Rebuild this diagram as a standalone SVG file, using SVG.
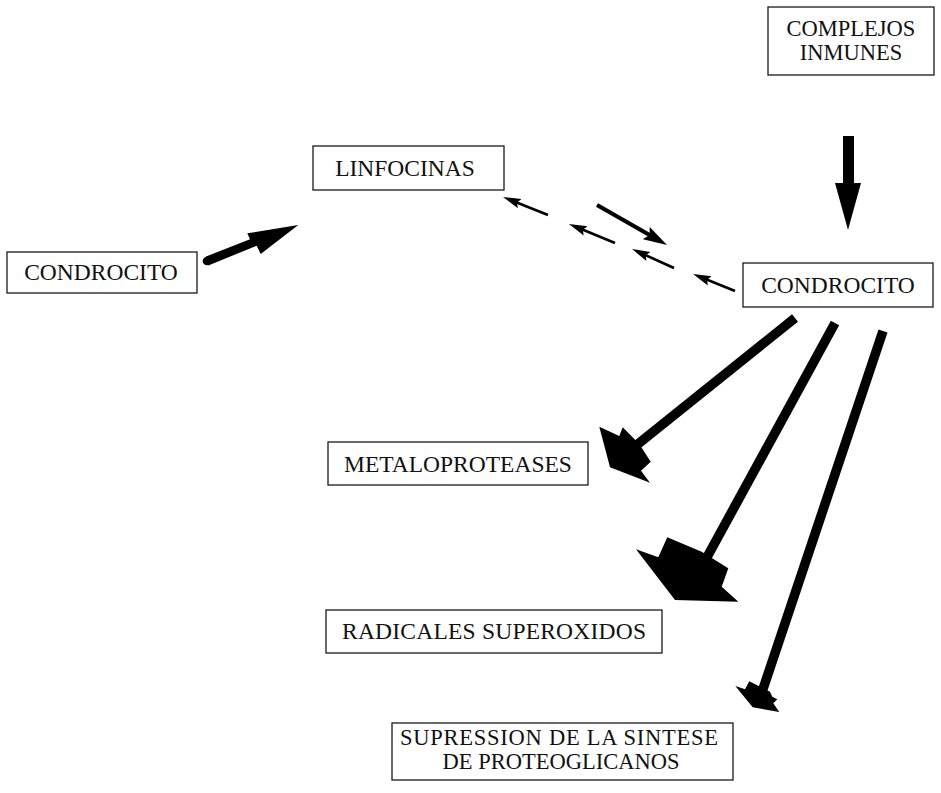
<svg xmlns="http://www.w3.org/2000/svg" width="941" height="793" viewBox="0 0 941 793">
  <style>
    .box { fill: #fff; stroke: #1a1a1a; stroke-width: 1.3; }
    .lbl { font-family: "Liberation Serif", "Times New Roman", serif; font-size: 23.5px; fill: #111; }
    .two { font-size: 22.5px; }
    .mid { text-anchor: middle; }
    .thin { stroke: #000; stroke-width: 2.6; fill: none; }
    .thick { stroke: #000; stroke-width: 4.2; fill: none; }
    .shaft { stroke: #000; stroke-width: 9.5; fill: none; }
    .head { fill: #000; }
  </style>
  <defs>
    <marker id="tipThin" markerUnits="userSpaceOnUse" markerWidth="18" markerHeight="12" refX="12" refY="6" orient="auto">
      <path d="M0,1 L18,6 L0,11 L3,6 z" fill="#000"/>
    </marker>
    <marker id="tipThick" markerUnits="userSpaceOnUse" markerWidth="24" markerHeight="14" refX="16" refY="7" orient="auto">
      <path d="M0,0 L24,7 L0,14 L4,7 z" fill="#000"/>
    </marker>
  </defs>
  <rect width="941" height="793" fill="#fff"/>

  <!-- nodes -->
  <g id="complejos-inmunes">
    <rect class="box" x="768" y="7" width="166" height="68"/>
    <text class="lbl two mid" x="851" y="35.5">COMPLEJOS</text>
    <text class="lbl two mid" x="851" y="60">INMUNES</text>
  </g>
  <g id="linfocinas">
    <rect class="box" x="313" y="146" width="191" height="44"/>
    <text class="lbl mid" x="405" y="176">LINFOCINAS</text>
  </g>
  <g id="condrocito-izq">
    <rect class="box" x="7" y="252" width="190" height="41"/>
    <text class="lbl mid" x="101" y="280">CONDROCITO</text>
  </g>
  <g id="condrocito-der">
    <rect class="box" x="743" y="263" width="190" height="44"/>
    <text class="lbl mid" x="838" y="293">CONDROCITO</text>
  </g>
  <g id="metaloproteases">
    <rect class="box" x="328" y="442" width="260" height="43"/>
    <text class="lbl mid" x="458" y="472">METALOPROTEASES</text>
  </g>
  <g id="radicales">
    <rect class="box" x="326" y="610" width="336" height="43"/>
    <text class="lbl" x="342" y="639" textLength="304" lengthAdjust="spacing">RADICALES SUPEROXIDOS</text>
  </g>
  <g id="supresion">
    <rect class="box" x="392" y="723" width="341" height="57"/>
    <text class="lbl two" x="400" y="744.5" textLength="318" lengthAdjust="spacing">SUPRESSION DE LA SINTESE</text>
    <text class="lbl two mid" x="561" y="769">DE PROTEOGLICANOS</text>
  </g>

  <!-- connectors -->
  <g id="connectors">
    <!-- condrocito (left) to linfocinas -->
    <polygon class="head" points="206,256.5 250,239.3 247.3,233.3 298.3,225 260.7,254 256.7,245.7 208.3,265.5"/>
    <circle class="head" cx="207" cy="261" r="4.3"/>

    <!-- complejos inmunes down to condrocito -->
    <rect class="head" x="843" y="136" width="11" height="48"/>
    <polygon class="head" points="835,183 861,183 848,230"/>

    <!-- exchange between condrocito and linfocinas -->
    <line class="thin" x1="548" y1="215" x2="508.6" y2="199.2" marker-end="url(#tipThin)"/>
    <line class="thin" x1="615" y1="243" x2="574.5" y2="226.3" marker-end="url(#tipThin)"/>
    <line class="thick" x1="597" y1="205" x2="660.1" y2="241" marker-end="url(#tipThick)"/>
    <line class="thin" x1="674" y1="268" x2="637.5" y2="251.5" marker-end="url(#tipThin)"/>
    <line class="thin" x1="735" y1="291" x2="698.6" y2="276.3" marker-end="url(#tipThin)"/>

    <!-- condrocito to metaloproteases -->
    <line class="shaft" x1="795" y1="318" x2="628" y2="452"/>
    <polygon class="head" points="599.3,426.7 619.3,436 622.7,427.3 639.3,444 650.7,461.7 641,470.7 650,482.7 610,467.3"/>

    <!-- condrocito to radicales superoxidos -->
    <line class="shaft" x1="835" y1="323" x2="700" y2="570"/>
    <polygon class="head" points="636,549.3 658.3,557.3 667.3,537.3 701.7,551.7 728.3,568.3 721.7,586.7 738.3,601.7 675,600"/>

    <!-- condrocito to supresion de la sintese -->
    <line class="shaft" x1="883" y1="331" x2="760" y2="698"/>
    <polygon class="head" points="735.3,686 745,689.3 749.3,681.3 770,691.7 772.3,696.7 777.3,699.3 773.3,703.3 779.3,712 752.7,707.3"/>
  </g>
</svg>
